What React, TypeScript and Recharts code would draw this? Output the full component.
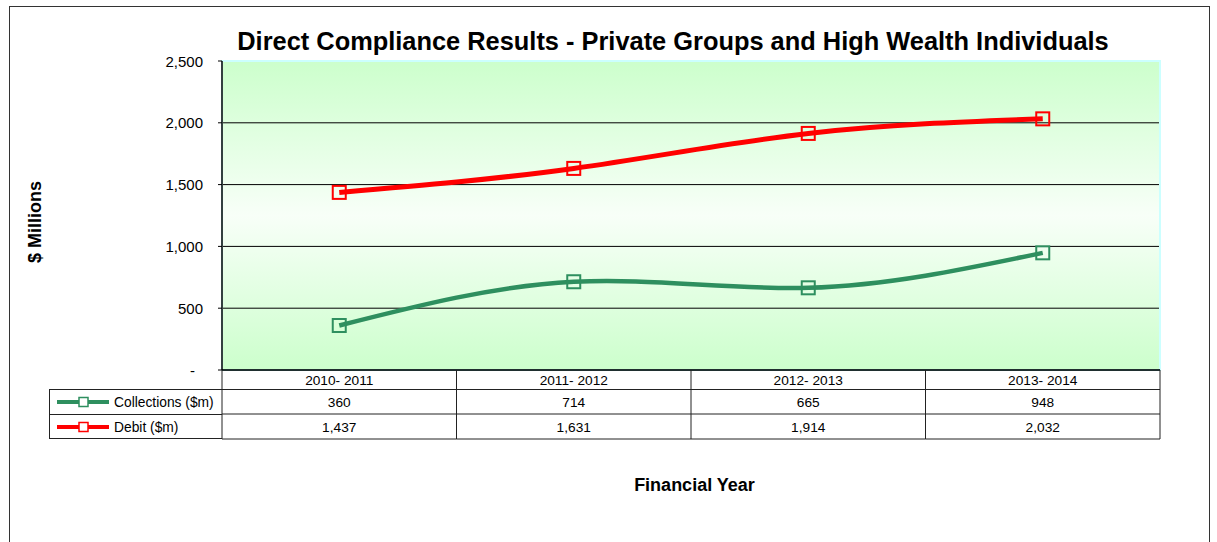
import { LineChart, Line, CartesianGrid, XAxis, YAxis, Legend, ReferenceArea } from 'recharts';

const categories = ['2010- 2011', '2011- 2012', '2012- 2013', '2013- 2014'];
const collections = [360, 714, 665, 948];
const debit = [1437, 1631, 1914, 2032];
const yTicks = [0, 500, 1000, 1500, 2000, 2500];
const gridValues = [500, 1000, 1500, 2000];

const seriesNames = ['Collections ($m)', 'Debit ($m)'];
const GREEN = '#2e8f5f';
const RED = '#ff0000';

const data = categories.map((c, i) => ({ year: c, collections: collections[i], debit: debit[i] }));

const FONT = '"Liberation Sans", Arial, sans-serif';
const PLOT_LEFT = 222;
const PLOT_RIGHT = 1160;
const CELL_W = (PLOT_RIGHT - PLOT_LEFT) / categories.length;
const LINE_C = '#222';

const fmt = (v: number) => v.toLocaleString('en-US');

function SquareDot(props: any) {
    const { cx, cy, stroke } = props;
    if (cx == null || cy == null) return null;
    return <rect x={cx - 6.5} y={cy - 6.5} width={13} height={13} fill="none" stroke={stroke} strokeWidth={2} />;
}

function YTick(props: any) {
    const { x, y, payload } = props;
    const v = payload.value;
    return (
        <text x={v === 0 ? x - 8 : x} y={y} textAnchor="end" dominantBaseline="central"
            fontSize={15} fontFamily={FONT} fill="#000">
            {v === 0 ? '-' : fmt(v)}
        </text>
    );
}

// data table columns hang off the category axis
function TableTick(props: any) {
    const { x, y, payload } = props;
    const i = payload.index ?? props.index;
    const l = x - CELL_W / 2;
    const r = x + CELL_W / 2;
    const txt = { textAnchor: 'middle' as const, dominantBaseline: 'central' as const, fontSize: 13.7, fontFamily: FONT, fill: '#000' };
    return (
        <g>
            {i === 0 && <line x1={l} y1={y} x2={l} y2={y + 69} stroke={LINE_C} />}
            <line x1={r} y1={y} x2={r} y2={y + 69} stroke={LINE_C} />
            <line x1={l} y1={y + 19.5} x2={r} y2={y + 19.5} stroke={LINE_C} />
            <line x1={l} y1={y + 44} x2={r} y2={y + 44} stroke={LINE_C} />
            <line x1={l} y1={y + 69} x2={r} y2={y + 69} stroke={LINE_C} />
            <text {...txt} x={x} y={y + 10}>{payload.value}</text>
            <text {...txt} x={x} y={y + 32}>{fmt(collections[i])}</text>
            <text {...txt} x={x} y={y + 57}>{fmt(debit[i])}</text>
        </g>
    );
}

function TableLegend(props: any) {
    const { payload } = props;
    return (
        <div style={{ width: 173, height: 50, boxSizing: 'border-box', borderLeft: `1px solid ${LINE_C}`, borderTop: `1px solid ${LINE_C}`, borderBottom: `1px solid ${LINE_C}` }}>
            {(payload || []).map((p: any, k: number) => (
                <div key={k} style={{ height: 24, display: 'flex', alignItems: 'center', borderTop: k > 0 ? `1px solid ${LINE_C}` : 'none', fontFamily: FONT, fontSize: 13.8 }}>
                    <svg width={64} height={14} style={{ flex: 'none' }}>
                        <line x1={7} y1={7} x2={59} y2={7} stroke={p.color} strokeWidth={4} />
                        <rect x={29} y={2.5} width={9} height={9} fill="#fff" stroke={p.color} strokeWidth={1.5} />
                    </svg>
                    <span>{p.value}</span>
                </div>
            ))}
        </div>
    );
}

export default function App() {
    return (
        <div style={{ position: 'absolute', left: 0, top: 0, width: 1217, height: 542, overflow: 'hidden', background: '#fff' }}>
            <div style={{ position: 'absolute', left: 9, top: 6, width: 1199, height: 600, border: '1px solid #333' }} />
            <div style={{ position: 'absolute', left: 73, top: 28.5, width: 1200, textAlign: 'center', fontFamily: FONT, fontWeight: 'bold', fontSize: 25.4, lineHeight: '25.4px', whiteSpace: 'nowrap' }}>
                Direct Compliance Results - Private Groups and High Wealth Individuals
            </div>
            <div style={{ position: 'absolute', left: -65, top: 213, width: 200, height: 18, lineHeight: '18px', textAlign: 'center', transform: 'rotate(-90deg)', fontFamily: FONT, fontWeight: 'bold', fontSize: 18, whiteSpace: 'nowrap' }}>
                $ Millions
            </div>
            <div style={{ position: 'absolute', left: 494.5, top: 475.8, width: 400, textAlign: 'center', fontFamily: FONT, fontWeight: 'bold', fontSize: 18, lineHeight: '18px', whiteSpace: 'nowrap' }}>
                Financial Year
            </div>
            <div style={{ position: 'absolute', left: 0, top: 0 }}>
                <LineChart width={1217} height={542} data={data} margin={{ top: 61, right: 1217 - PLOT_RIGHT, bottom: 100, left: 0 }}>
                    <defs>
                        <linearGradient id="plotBg" x1="0" y1="0" x2="0" y2="1">
                            <stop offset="0%" stopColor="#ccffcc" />
                            <stop offset="50%" stopColor="#f8fff8" />
                            <stop offset="100%" stopColor="#ccffcc" />
                        </linearGradient>
                    </defs>
                    <CartesianGrid fill="url(#plotBg)" vertical={false} horizontalValues={gridValues} stroke="#000" strokeOpacity={1} />
                    <ReferenceArea y1={0} y2={2500} fill="none" stroke="#ccffff" strokeWidth={2} ifOverflow="visible" />
                    <XAxis dataKey="year" scale="band" height={72} tickSize={0} tickMargin={0} interval={0}
                        axisLine={{ stroke: '#1f2f2f', strokeWidth: 2 }} tickLine={false} tick={<TableTick />} />
                    <YAxis width={PLOT_LEFT} domain={[0, 2500]} ticks={yTicks} tickSize={4} tickMargin={15}
                        axisLine={{ stroke: '#000', strokeWidth: 1.5 }} tickLine={{ stroke: '#000' }} tick={<YTick />} />
                    <Legend layout="horizontal" verticalAlign="middle" align="center" content={<TableLegend />}
                        wrapperStyle={{ left: 49, top: 389, width: 174, height: 50 }} />
                    <Line type="natural" dataKey="collections" name={seriesNames[0]} stroke={GREEN} strokeWidth={4.5}
                        dot={<SquareDot />} activeDot={false} isAnimationActive={false} />
                    <Line type="natural" dataKey="debit" name={seriesNames[1]} stroke={RED} strokeWidth={5}
                        dot={<SquareDot />} activeDot={false} isAnimationActive={false} />
                </LineChart>
            </div>
        </div>
    );
}
